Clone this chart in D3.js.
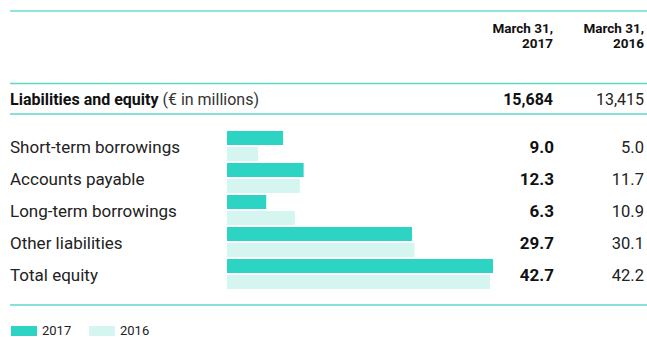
<!DOCTYPE html>
<html>
<head>
<meta charset="utf-8">
<script src="https://cdn.jsdelivr.net/npm/d3@7"></script>
<style>
  body { margin: 0; background: #fff; }
  svg { display: block; font-family: Roboto, "Liberation Sans", sans-serif; }
</style>
</head>
<body>
<svg id="chart" width="647" height="337"></svg>
<script>
// data
const categories = ["Short-term borrowings", "Accounts payable", "Long-term borrowings", "Other liabilities", "Total equity"];
const values2017 = [9.0, 12.3, 6.3, 29.7, 42.7];
const values2016 = [5.0, 11.7, 10.9, 30.1, 42.2];
const seriesNames = ["2017", "2016"];
const columnHeaders = [["March 31,", "2017"], ["March 31,", "2016"]];
const totalLabel = "Liabilities and equity";
const unitLabel = "(€ in millions)";
const totals = ["15,684", "13,415"];

const colors = { "2017": "#2dd4c4", "2016": "#d5f5f1" };
const lineColor = "#5dd8c8";

let svg = d3.select("#chart");

let rows = categories.map((c, i) => ({ name: c, "2017": values2017[i], "2016": values2016[i] }));

let x = d3.scaleLinear()
    .domain([0, d3.max(rows, d => Math.max(d["2017"], d["2016"]))])
    .range([227, 493]);

let y = d3.scaleBand()
    .domain(categories)
    .range([131, 291])
    .padding(0);

let ySub = d3.scaleBand()
    .domain(seriesNames)
    .range([0, 30])
    .paddingInner(0.125)
    .paddingOuter(0);

let colRight = [553, 644];

// horizontal rules
let rules = [
    { y: 11, color: "#8de6dd", w: 2 },
    { y: 83.5, color: lineColor, w: 1.5 },
    { y: 114, color: lineColor, w: 1.5 },
    { y: 305, color: lineColor, w: 1.5 }
];
svg.selectAll("line.rule")
    .data(rules)
    .enter().append("line")
    .attr("class", "rule")
    .attr("x1", 10).attr("x2", 647)
    .attr("y1", d => d.y).attr("y2", d => d.y)
    .attr("stroke", d => d.color)
    .attr("stroke-width", d => d.w);

// column headers
columnHeaders.forEach((h, i) => {
    svg.append("text")
        .attr("x", colRight[i])
        .attr("text-anchor", "end")
        .attr("font-size", 13.5)
        .attr("font-weight", "bold")
        .attr("fill", "#111")
        .selectAll("tspan")
        .data(h)
        .enter().append("tspan")
        .attr("x", colRight[i])
        .attr("y", (d, j) => 32.5 + j * 15)
        .text(d => d);
});

// total row
let tl = svg.append("text")
    .attr("x", 10).attr("y", 105)
    .attr("font-size", 16)
    .attr("fill", "#111");
tl.append("tspan").attr("font-weight", "bold").text(totalLabel);
tl.append("tspan").attr("fill", "#333").text(" " + unitLabel);

totals.forEach((t, i) => {
    svg.append("text")
        .attr("x", colRight[i]).attr("y", 105)
        .attr("text-anchor", "end")
        .attr("font-size", 16)
        .attr("font-weight", i === 0 ? "bold" : "normal")
        .attr("fill", i === 0 ? "#111" : "#222")
        .text(t);
});

// bars
let g = svg.selectAll("g.row")
    .data(rows)
    .enter().append("g")
    .attr("class", "row")
    .attr("transform", d => `translate(0, ${y(d.name)})`);

g.selectAll("rect")
    .data(d => seriesNames.map(s => ({ s: s, v: d[s] })))
    .enter().append("rect")
    .attr("x", x(0))
    .attr("y", d => ySub(d.s))
    .attr("width", d => x(d.v) - x(0))
    .attr("height", ySub.bandwidth())
    .attr("fill", d => colors[d.s]);

g.append("text")
    .attr("x", 10).attr("y", 21.5)
    .attr("font-size", 17)
    .attr("fill", "#222")
    .text(d => d.name);

g.append("text")
    .attr("x", colRight[0] + 1).attr("y", 21.5)
    .attr("text-anchor", "end")
    .attr("font-size", 17)
    .attr("font-weight", "bold")
    .attr("fill", "#111")
    .text(d => d["2017"].toFixed(1));

g.append("text")
    .attr("x", colRight[1]).attr("y", 21.5)
    .attr("text-anchor", "end")
    .attr("font-size", 16.5)
    .attr("fill", "#222")
    .text(d => d["2016"].toFixed(1));

// legend
let legend = svg.selectAll("g.legend")
    .data(seriesNames)
    .enter().append("g")
    .attr("class", "legend")
    .attr("transform", (d, i) => `translate(${11 + i * 78}, 0)`);

legend.append("rect")
    .attr("x", 0).attr("y", 326)
    .attr("width", 26).attr("height", 10)
    .attr("fill", d => colors[d]);

legend.append("text")
    .attr("x", 31).attr("y", 335)
    .attr("font-size", 13)
    .attr("fill", "#222")
    .text(d => d);
</script>
</body>
</html>
